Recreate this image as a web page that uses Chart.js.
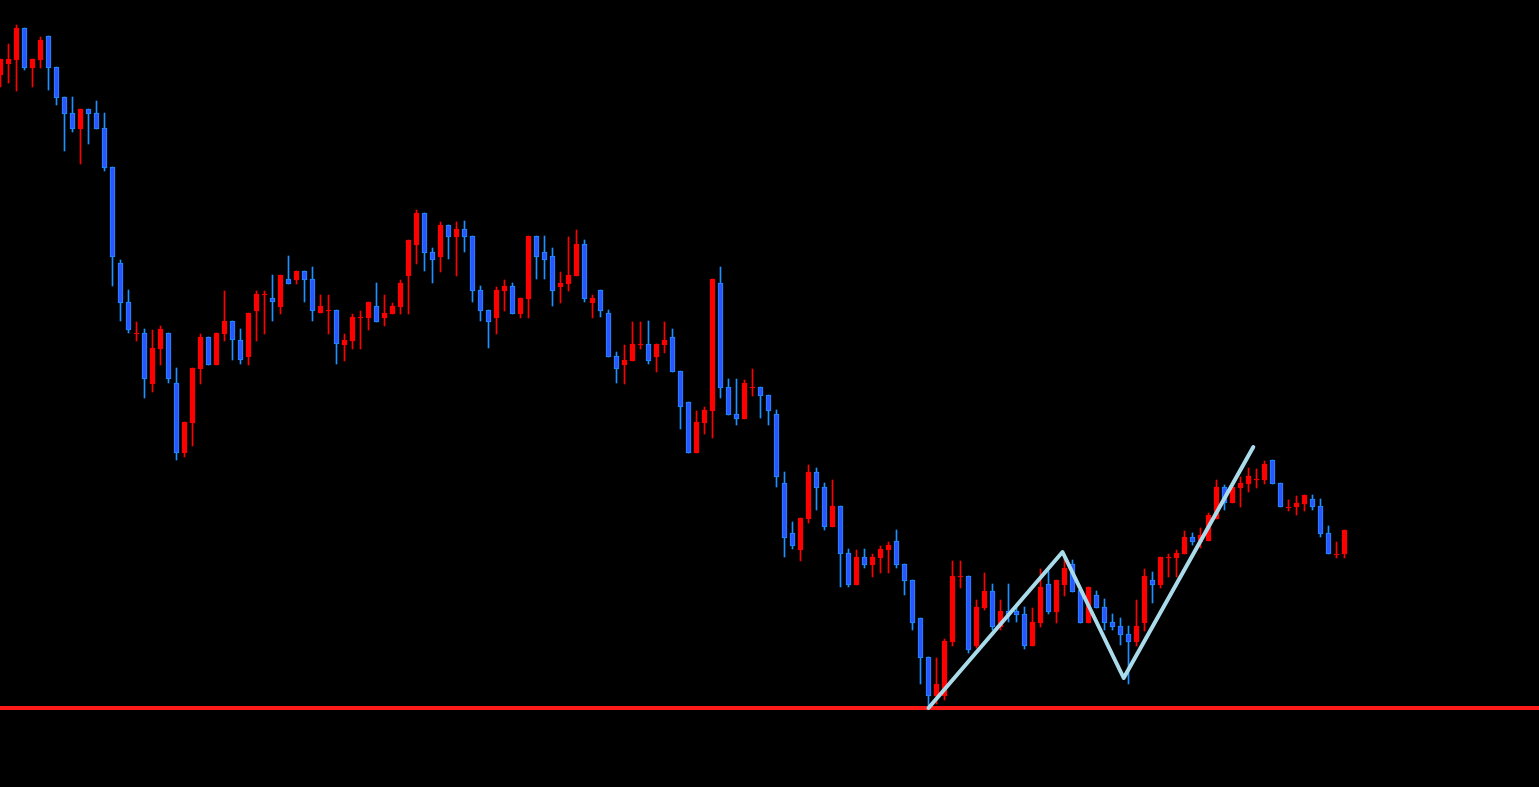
<!DOCTYPE html>
<html>
<head>
<meta charset="utf-8">
<script src="https://cdn.jsdelivr.net/npm/chart.js@4.4.1/dist/chart.umd.min.js"></script>
<style>
html,body{margin:0;padding:0;background:#000;overflow:hidden}
#wrap{width:1539px;height:787px;position:relative;background:#000}
</style>
</head>
<body>
<div id="wrap"><canvas id="c"></canvas></div>
<script>
// Price data (points), one entry per candle
const openPrices = [725,736,740,772,732,740,764,733,703,687,
671,691,687,672,633,537,498,466,467,416,
451,467,417,347,377,431,463,435,466,479,
460,443,489,505,502,493,521,520,529,521,
487,489,490,455,459,482,482,494,482,486,
493,524,555,587,548,543,575,563,571,564,
510,490,482,509,514,486,501,564,548,544,
513,516,524,556,497,510,487,444,435,439,
455,456,443,455,463,429,398,347,377,389,
517,413,386,381,412,413,405,386,317,267,
250,281,328,313,273,294,247,215,243,235,
242,250,259,236,220,182,143,104,104,158,
223,224,154,192,209,173,189,189,186,154,
177,216,188,215,236,210,177,205,193,178,
174,166,158,177,220,215,242,242,246,263,
258,259,281,313,297,312,316,320,320,340,
317,292,293,296,301,294,267,245,246];
const highPrices = [741,756,775,772,741,763,764,733,703,703,
691,691,699,687,633,540,510,478,471,470,
474,467,432,378,432,466,463,467,509,479,
471,487,509,509,525,525,544,529,529,533,
505,505,490,466,486,489,498,517,505,497,
520,560,590,587,552,578,575,578,579,564,
514,490,513,520,517,502,564,564,564,552,
528,563,570,560,505,510,490,448,455,478,
478,479,456,478,471,429,398,389,393,521,
533,421,421,420,431,413,405,390,328,278,
282,335,332,317,320,294,251,250,251,246,
254,258,270,236,220,182,143,142,161,239,
239,224,200,227,216,200,216,193,193,192,
231,229,220,241,240,210,213,209,201,186,
182,174,200,231,228,243,246,250,269,267,
272,287,320,315,317,323,332,331,339,340,
317,300,304,305,305,301,274,258,270];
const lowPrices = [713,717,709,730,713,732,710,695,649,668,
636,656,671,629,514,479,467,459,402,408,
435,417,340,343,354,416,435,435,459,440,
436,435,459,466,479,486,516,516,498,479,
487,466,436,439,451,451,470,478,474,486,
486,486,536,529,517,528,541,524,548,498,
479,452,466,489,486,482,482,521,521,494,
497,509,524,498,482,483,443,417,416,439,
451,436,428,447,428,371,347,347,366,362,
402,385,375,381,404,382,375,313,243,251,
239,277,290,270,273,213,213,215,232,223,
227,227,232,205,170,116,93,96,100,154,
212,147,152,190,170,170,178,178,151,154,
173,186,177,204,208,177,177,192,170,170,
155,116,154,169,197,212,223,223,246,255,
252,259,281,290,297,293,308,312,316,316,
293,289,285,289,290,263,246,242,242];
const closePrices = [741,741,772,732,741,760,732,702,686,671,
691,686,671,632,543,497,470,467,421,452,
471,421,347,378,432,463,435,467,479,460,
440,487,506,506,498,525,516,529,520,489,
494,490,456,460,483,483,498,478,487,494,
517,560,587,547,540,575,563,571,563,509,
489,478,510,514,486,502,564,543,540,509,
517,525,556,501,502,489,443,431,440,456,
456,439,456,460,428,393,347,378,390,521,
412,385,381,417,413,404,389,323,262,254,
282,328,312,273,294,246,215,243,235,243,
251,255,235,219,177,142,104,116,159,224,
224,150,193,209,173,189,185,185,154,178,
213,188,220,232,208,177,213,192,177,173,
165,158,174,224,215,243,243,247,263,258,
265,285,313,297,313,317,324,321,336,316,
293,293,297,305,293,266,246,246,270];
const supportLevel = 92;
const zigzagIndex = [116, 132.75, 140.4, 156.6];
const zigzagPrice = [92, 248, 122, 353];

const UP = '#ff0000', DOWN_FILL = '#2a55ff', DOWN_EDGE = '#1e90ff';
const isUp = i => closePrices[i] >= openPrices[i];
const bodies = openPrices.map((o, i) => ({x: i, y: [o, closePrices[i]]}));
const wicks = lowPrices.map((l, i) => ({x: i, y: [l, highPrices[i]]}));
const zigzag = zigzagIndex.map((x, i) => ({x, y: zigzagPrice[i]}));

const xMin = -0.0625, xMax = xMin + 1539 / 8;

new Chart(document.getElementById('c'), {
  type: 'bar',
  data: {
    datasets: [
      {type: 'line', data: zigzag, borderColor: '#a9dbea', borderWidth: 4, pointRadius: 0,
       borderCapStyle: 'round', borderJoinStyle: 'round', tension: 0, order: 0},
      {type: 'line', data: [{x: xMin - 1, y: supportLevel}, {x: xMax + 1, y: supportLevel}],
       borderColor: '#ff1a1a', borderWidth: 4, pointRadius: 0, order: 1},
      {data: bodies, barThickness: 5, borderWidth: 1, borderSkipped: false, grouped: false,
       backgroundColor: c => isUp(c.dataIndex) ? UP : DOWN_FILL,
       borderColor: c => isUp(c.dataIndex) ? UP : DOWN_EDGE, order: 2},
      {data: wicks, barThickness: 1, borderWidth: 0, grouped: false,
       backgroundColor: c => isUp(c.dataIndex) ? UP : DOWN_EDGE, order: 3}
    ]
  },
  options: {
    responsive: true,
    maintainAspectRatio: false,
    animation: false,
    layout: {padding: 0},
    plugins: {legend: {display: false}, tooltip: {enabled: false}},
    scales: {
      x: {type: 'linear', offset: false, bounds: 'data', min: xMin, max: xMax, display: false, grid: {display: false, offset: false}},
      y: {min: 13, max: 800, display: false, grid: {display: false}}
    }
  }
});
</script>
</body>
</html>
